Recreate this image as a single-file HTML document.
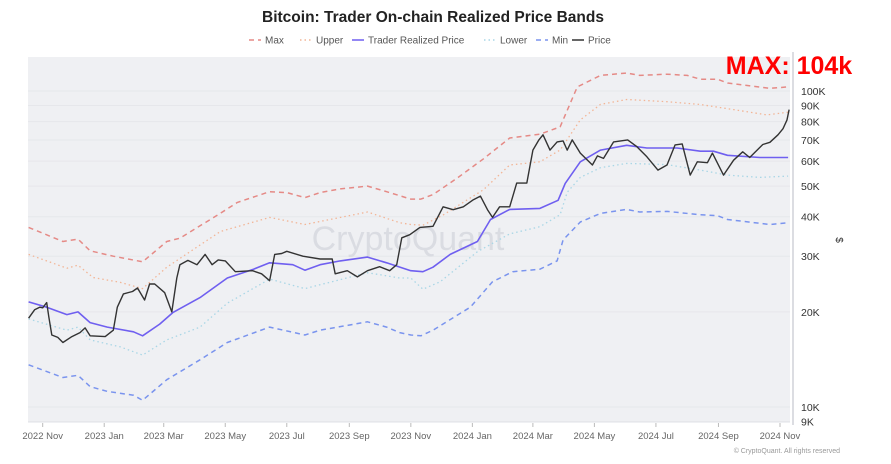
<!DOCTYPE html>
<html><head><meta charset="utf-8"><style>
body{margin:0;background:#fff;width:891px;height:459px;overflow:hidden;font-family:"Liberation Sans",sans-serif}
</style></head><body>
<svg id="chart" width="891" height="459" xmlns="http://www.w3.org/2000/svg" font-family="Liberation Sans, sans-serif">
<text x="433" y="22" text-anchor="middle" font-size="15.5" font-weight="bold" fill="#222">Bitcoin: Trader On-chain Realized Price Bands</text>
<g id="legend" font-size="10" fill="#555"></g>
<rect x="28" y="57" width="762" height="366" fill="#eff0f3"/>
<g id="grid"></g>
<text x="408" y="250" text-anchor="middle" font-size="34" fill="#d6d8df" opacity="0.8">CryptoQuant</text>
<g id="series"></g>
<line x1="793" y1="52" x2="793" y2="425" stroke="#d0d2d8" stroke-width="1.5"/>
<g id="yaxis" font-size="10.5" fill="#333"></g>
<g id="xaxis" font-size="9.5" fill="#666"></g>
<text x="836" y="240" font-size="10" fill="#333" transform="rotate(90 836 240)" text-anchor="middle">$</text>
<text x="789" y="74" text-anchor="middle" font-size="25" font-weight="bold" fill="#ff0000">MAX: 104k</text>
<text x="840" y="453" text-anchor="end" font-size="7" fill="#999">© CryptoQuant. All rights reserved</text>
</svg>
<script>
// days since 2022-11-01, values in USD
const maxBand=[[-14,37000],[20,33400],[35,34000],[47,31200],[70,30000],[99,28800],[123,33400],[136,34200],[176,41000],[193,44400],[225,48000],[242,47700],[260,46000],[275,47700],[295,49000],[322,50000],[341,48000],[365,45500],[375,45500],[387,47000],[411,53000],[437,61000],[463,71000],[493,73000],[513,77000],[530,103000],[553,112000],[579,114000],[592,112000],[619,113000],[639,112000],[652,109000],[669,109000],[679,106000],[721,102000],[739,103000]];
const upperBand=[[-14,30400],[24,27500],[35,28100],[50,25700],[77,24800],[99,23700],[123,27700],[176,35900],[225,39800],[260,37800],[322,41400],[365,37800],[354,38300],[377,37600],[397,40500],[437,48700],[463,58300],[493,59700],[513,65000],[533,81000],[553,90700],[579,94000],[619,92500],[652,90600],[685,87300],[718,84000],[739,85700]];
const realized=[[-14,21500],[4,20700],[24,19600],[35,20000],[47,18500],[64,17900],[90,17300],[99,16800],[116,18300],[129,19900],[156,22200],[183,25600],[209,27300],[225,28600],[248,28200],[260,27100],[275,28200],[295,29000],[322,29800],[341,28600],[365,27000],[377,26800],[387,27700],[404,30400],[431,33400],[444,39200],[463,42200],[493,42500],[511,45100],[518,51000],[533,59700],[553,65000],[579,67300],[599,66000],[629,66000],[652,64500],[665,64500],[679,62600],[711,61600],[739,61600]];
const lowerBand=[[-14,19000],[24,17500],[35,17900],[47,16300],[77,15500],[99,14600],[123,16300],[156,17900],[183,21300],[225,25400],[260,23700],[322,26600],[354,25600],[365,25600],[377,23600],[394,24900],[431,31000],[463,35300],[493,37200],[513,40600],[520,47800],[533,53300],[553,57200],[579,59000],[619,58500],[652,56200],[679,54200],[711,53300],[739,53800]];
const minBand=[[-14,13600],[20,12400],[35,12600],[47,11600],[64,11200],[90,10900],[99,10500],[123,12200],[156,14100],[183,16000],[225,17900],[260,16900],[275,17500],[322,18600],[341,17900],[365,16900],[354,17200],[375,16800],[387,17500],[424,20700],[446,24900],[466,26800],[493,27300],[510,29000],[516,33800],[533,38500],[553,41000],[579,42200],[592,41400],[619,41600],[652,40600],[669,40300],[679,39200],[721,37800],[739,38300]];
const price=[[-14,19100],[-8,20300],[-3,20700],[0,20600],[4,21400],[6,19300],[9,16900],[15,16600],[20,16000],[29,16700],[37,17200],[42,17800],[47,16800],[62,16700],[70,17500],[74,20700],[80,22800],[89,23200],[94,23800],[101,21800],[106,24500],[111,24500],[121,23000],[128,20000],[133,25600],[136,28200],[144,29100],[153,28200],[161,30400],[168,28200],[174,29200],[181,29000],[191,26800],[208,27000],[217,26400],[225,25100],[230,30400],[237,30600],[242,31100],[258,30000],[275,29400],[287,29400],[290,26400],[302,27000],[312,25800],[322,27000],[334,27800],[344,27000],[351,28200],[356,34300],[364,35100],[374,37000],[387,37300],[397,43000],[407,42100],[417,43000],[427,45300],[434,46500],[441,42100],[446,39800],[453,43000],[463,43000],[470,51100],[480,51100],[486,65000],[492,70000],[496,72700],[503,65000],[510,69000],[516,69500],[520,65000],[525,70000],[533,63600],[545,58300],[550,62300],[556,61200],[566,69000],[580,70000],[589,66700],[599,61900],[610,56200],[619,58300],[627,67500],[634,68000],[642,54200],[649,59700],[659,59300],[664,63600],[675,54200],[685,60400],[694,64200],[701,61600],[714,67700],[721,68800],[729,72700],[734,76000],[738,81000],[740,87300]];
const yTicks=[9000,10000,20000,30000,40000,50000,60000,70000,80000,90000,100000];
const yTickLabels=["9K","10K","20K","30K","40K","50K","60K","70K","80K","90K","100K"];
const xTicks=[0,61,120,181,242,304,365,426,486,547,608,670,731];
const xTickLabels=["2022 Nov","2023 Jan","2023 Mar","2023 May","2023 Jul","2023 Sep","2023 Nov","2024 Jan","2024 Mar","2024 May","2024 Jul","2024 Sep","2024 Nov"];

const NS="http://www.w3.org/2000/svg";
const xs=d=>42.7+d*1.0086;
const ys=v=>407-(Math.log10(v)-4)*316;
function mk(tag,attrs,parent){const e=document.createElementNS(NS,tag);for(const k in attrs)e.setAttribute(k,attrs[k]);parent.appendChild(e);return e;}
const grid=document.getElementById('grid'),yax=document.getElementById('yaxis'),xax=document.getElementById('xaxis'),ser=document.getElementById('series'),leg=document.getElementById('legend');
yTicks.forEach((v,i)=>{
  const l=mk('line',{x1:28,x2:790,y1:ys(v),y2:ys(v),stroke:'#e6e7eb','stroke-width':1},grid);
  
  
  const t=mk('text',{x:801,y:ys(v)+4},yax);t.textContent=yTickLabels[i];
  
  
});
xTicks.forEach((d,i)=>{
  const l=mk('line',{x1:xs(d),x2:xs(d),y1:423,y2:427,stroke:'#bbb'},xax);
  
  
  const t=mk('text',{x:xs(d),y:439,'text-anchor':'middle'},xax);t.textContent=xTickLabels[i];
  
  
});
const defs=[
 {data:maxBand,name:'Max',key:'max-band',stroke:'#e58a86',w:1.5,dash:'5,4'},
 {data:upperBand,name:'Upper',key:'upper-band',stroke:'#f2b596',w:1.3,dash:'1.5,3'},
 {data:realized,name:'Trader Realized Price',key:'trader-realized-price',stroke:'#6f5ff0',w:1.6,dash:''},
 {data:lowerBand,name:'Lower',key:'lower-band',stroke:'#a9d6e6',w:1.3,dash:'1.5,3'},
 {data:minBand,name:'Min',key:'min-band',stroke:'#7a94ee',w:1.5,dash:'5,4'},
 {data:price,name:'Price',key:'price',stroke:'#333',w:1.4,dash:''}
];
defs.forEach(s=>{
  const pts=s.data.slice().sort((a,b)=>a[0]-b[0]);
  const p=mk('path',{d:pts.map((q,i)=>(i?'L':'M')+xs(q[0]).toFixed(1)+','+ys(q[1]).toFixed(1)).join(''),fill:'none',stroke:s.stroke,'stroke-width':s.w,'stroke-dasharray':s.dash,'stroke-linejoin':'round'},ser);
  
  
});
const legX=[249,300,352,484,536,572];
defs.forEach((s,i)=>{
  const g=mk('g',{},leg);
  
  
  mk('line',{x1:legX[i],x2:legX[i]+12,y1:40,y2:40,stroke:s.stroke,'stroke-width':1.5,'stroke-dasharray':s.dash},g);
  const t=mk('text',{x:legX[i]+16,y:43.5},g);t.textContent=s.name;
});
</script>
</body></html>
